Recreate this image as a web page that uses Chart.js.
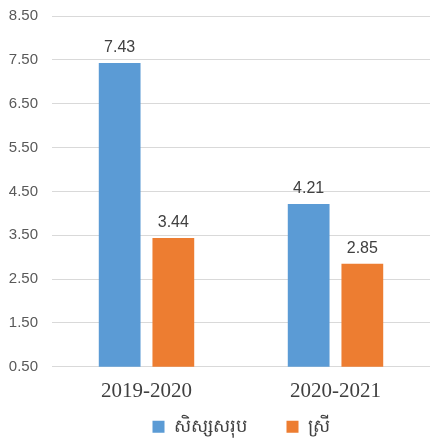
<!DOCTYPE html>
<html>
<head>
<meta charset="utf-8">
<script src="https://cdn.jsdelivr.net/npm/chart.js@4.4.1/dist/chart.umd.min.js"></script>
<style>
  html, body { margin: 0; padding: 0; background: #fff; }
  #wrap { width: 430px; height: 438px; }
</style>
</head>
<body>
<div id="wrap"><canvas id="chart"></canvas></div>
<script>
const categories = ['2019-2020', '2020-2021'];
const totalValues = [7.43, 4.21];
const femaleValues = [3.44, 2.85];
const seriesNames = ['សិស្សសរុប', 'ស្រី'];

// value labels above each bar
const barLabels = {
    id: 'barLabels',
    afterDatasetsDraw(chart) {
        const c = chart.ctx;
        c.save();
        c.font = '16px "Liberation Sans", Arial, sans-serif';
        c.fillStyle = '#404040';
        c.textAlign = 'center';
        c.textBaseline = 'alphabetic';
        chart.data.datasets.forEach((ds, i) => {
            chart.getDatasetMeta(i).data.forEach((bar, j) => {
                c.fillText(ds.data[j].toFixed(2), bar.x, bar.y - 11);
            });
        });
        c.restore();
    }
};

// centre the legend under the plot area, like the original
const legendUnderPlot = {
    id: 'legendUnderPlot',
    beforeDraw(chart) {
        const lg = chart.legend;
        const h = lg.bottom - lg.top;
        lg.left = chart.chartArea.left;
        lg.right = chart.chartArea.right;
        lg.top = chart.chartArea.bottom + 11;
        lg.bottom = lg.top + h;
    }
};

new Chart(document.getElementById('chart').getContext('2d'), {
    type: 'bar',
    data: {
        labels: categories,
        datasets: [{
            label: seriesNames[0],
            data: totalValues,
            backgroundColor: '#5B9BD5'
        }, {
            label: seriesNames[1],
            data: femaleValues,
            backgroundColor: '#ED7D31'
        }]
    },
    options: {
        responsive: true,
        maintainAspectRatio: false,
        animation: false,
        categoryPercentage: 0.568,
        barPercentage: 0.778,
        layout: { padding: { top: 16, right: 0, left: 0, bottom: -38 } },
        plugins: {
            tooltip: { enabled: false },
            legend: {
                position: 'bottom',
                labels: {
                    boxWidth: 12,
                    boxHeight: 12,
                    padding: 40,
                    color: '#404040',
                    font: { size: 18, family: '"Noto Sans", "DejaVu Sans", sans-serif' }
                }
            }
        },
        scales: {
            y: {
                min: 0.5,
                max: 8.5,
                afterFit: s => { s.width = 52; s.paddingTop = 0; },
                border: { display: false },
                grid: { color: '#d9d9d9', drawTicks: false },
                ticks: {
                    stepSize: 1,
                    padding: 14,
                    color: '#595959',
                    font: { size: 15, family: '"Liberation Sans", Arial, sans-serif' },
                    callback: v => Number(v).toFixed(2)
                }
            },
            x: {
                border: { display: false },
                grid: { display: false },
                ticks: {
                    padding: 4,
                    color: '#404040',
                    font: { size: 21, family: '"Liberation Serif", "Times New Roman", serif' }
                }
            }
        }
    },
    plugins: [barLabels, legendUnderPlot]
});
</script>
</body>
</html>
